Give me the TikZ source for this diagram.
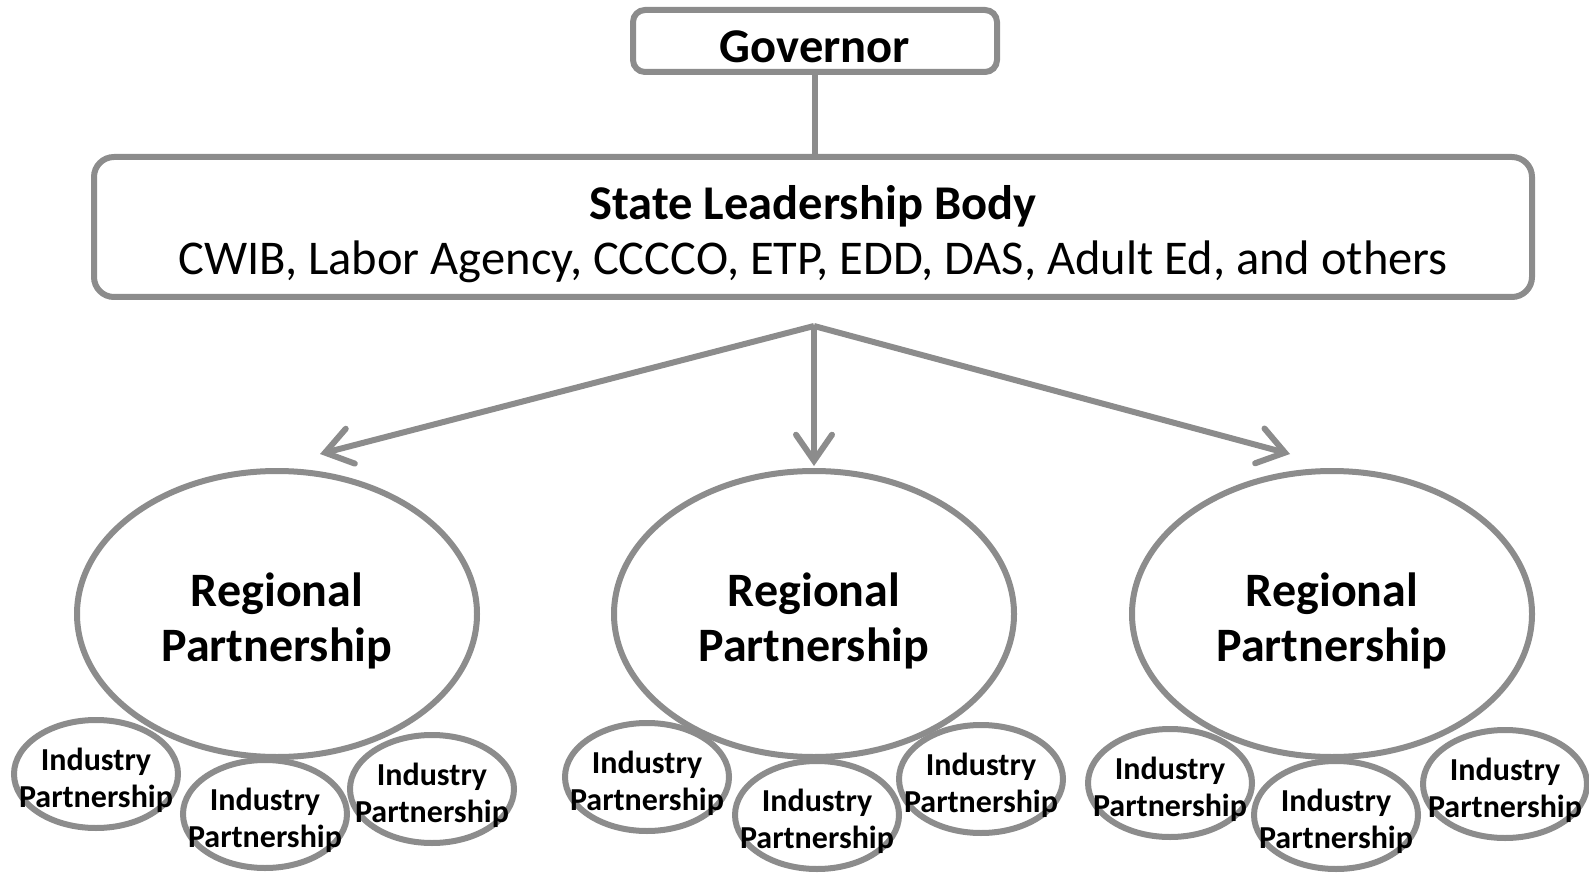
\documentclass[tikz,border=0pt]{standalone}
\usepackage{fontspec}
\setmainfont{Carlito}
\usetikzlibrary{positioning,shapes.geometric,arrows.meta,calc}
\definecolor{linegray}{RGB}{140,140,140}
\newcommand{\lift}[1]{\rule{0pt}{#1}}

\tikzset{
  box/.style={draw=linegray, line width=6pt, fill=white, align=center, inner sep=0pt,
    font=\fontsize{48.5}{55}\selectfont},
  region/.style={ellipse, draw=linegray, line width=6pt, fill=white, inner sep=0pt,
    minimum width=400pt, minimum height=286pt, align=center,
    font=\fontsize{48}{55}\selectfont\bfseries},
  industry/.style={ellipse, draw=linegray, line width=6pt, fill=white, inner sep=0pt,
    minimum width=164pt, minimum height=108pt},
  indtext/.style={align=center, inner sep=0pt, yshift=-6pt,
    font=\fontsize{32}{37}\selectfont\bfseries},
  link/.style={draw=linegray, line width=6pt},
  arrow/.style={link, -{Straight Barb[length=26pt,width=36pt,line cap=round]}}
}

\begin{document}
\begin{tikzpicture}[x=1pt,y=-1pt]
    \useasboundingbox (0,0) rectangle (1589,874);

    % top of the chart
    \node[box, rounded corners=12pt, minimum width=364pt, minimum height=62pt] (gov) at (815,41) {\lift{43pt}\bfseries Governor};
    \node[box, rounded corners=20pt, minimum width=1438pt, minimum height=140pt] (state) at (813,227)
        {\lift{49pt}{\bfseries State Leadership Body}\\CWIB, Labor Agency, CCCCO, ETP, EDD, DAS, Adult Ed, and others};
    \draw[link] (gov.south) -- (gov.south |- state.north);

    % regional partnerships
    \node[region] (reg1) at (277,614) {\lift{47pt}Regional\\Partnership};
    \node[region] (reg2) at (814,614) {\lift{47pt}Regional\\Partnership};
    \node[region] (reg3) at (1332,614) {\lift{47pt}Regional\\Partnership};

    \coordinate (split) at (814,326);
    \coordinate (tip1) at ($(reg1.north)+(43,-14)$);
    \coordinate (tip2) at ($(reg2.north)+(0,-2)$);
    \coordinate (tip3) at ($(reg3.north)+(-42,-14)$);
    \foreach \t in {tip1,tip2,tip3}
        \draw[arrow] (split) -- (\t);

    % industry partnerships, outlines first and words on top
    \foreach \n/\x/\y in {1a/96/774, 1b/265/814, 1c/432/789,
                          2a/647/777, 2b/817/815, 2c/981/779,
                          3a/1170/783, 3b/1336/815, 3c/1505/784}
        \node[industry] (ind\n) at (\x,\y) {};
    \foreach \n in {1a,1b,1c,2a,2b,2c,3a,3b,3c}
        \node[indtext] (txt\n) at (ind\n) {Industry\\Partnership};

\end{tikzpicture}
\end{document}
